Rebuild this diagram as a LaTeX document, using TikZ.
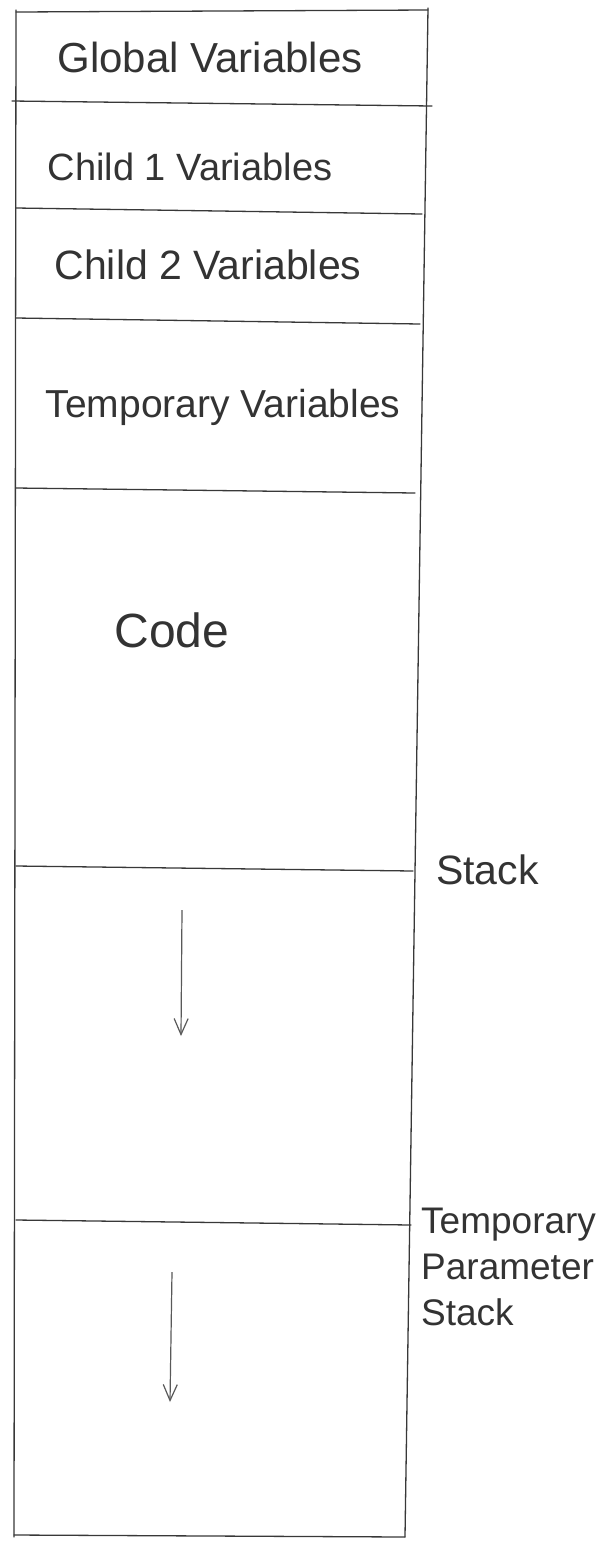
\documentclass[tikz,border=0pt]{standalone}
\usepackage{fontspec}
\setmainfont{Liberation Sans}
\usetikzlibrary{arrows.meta}
\tikzset{
  pen/.style={draw=black!78, line width=1.3pt, line cap=round},
  lbl/.style={text=black!80, inner sep=0pt},
  fs/.style={font=\fontsize{#1}{#1}\selectfont},
  side/.style={text=black!80, inner sep=0pt, align=left, anchor=north west},
  down/.style={draw=black!65, line width=1.2pt, -{Straight Barb[length=16pt,width=14pt,line width=1.2pt]}}
}
\begin{document}
\begin{tikzpicture}[x=1pt,y=-1pt]
\useasboundingbox[fill=white] (0,0) rectangle (612,1543);
% outer frame
\draw[pen] (16,12) -- (428,10);
\draw[pen] (16,10) -- (14,1537);
\draw[pen] (428,8) -- (405,1537);
\draw[pen] (14,1535) -- (405,1537);
% separators
\draw[pen] (12,101) -- (432,106);
\draw[pen] (16,208) -- (422,214);
\draw[pen] (16,318) -- (420,324);
\draw[pen] (16,488) -- (415,493);
\draw[pen] (16,866) -- (413,871);
\draw[pen] (16,1220) -- (411,1225);
% labels
\node[lbl, fs=42] (glob) at (210,57) {Global Variables};
\node[lbl, fs=38] (c1) at (190,167) {Child 1 Variables};
\node[lbl, fs=41] (c2) at (208,265) {Child 2 Variables};
\node[lbl, fs=39] (tmp) at (223,407) {Temporary Variables};
\node[lbl, fs=48] (code) at (172,630) {Code};
\node[side, fs=41] (stack) at (436,855) {Stack};
\node[side, font=\fontsize{37}{46}\selectfont] (tps) at (421,1208) {Temporary\\Parameter\\Stack};
% arrows
\coordinate (s1) at (182,910);
\coordinate (e1) at (181,1036);
\coordinate (s2) at (172,1272);
\coordinate (e2) at (170,1402);
\draw[down] (s1) -- (e1);
\draw[down] (s2) -- (e2);
\end{tikzpicture}
\end{document}
